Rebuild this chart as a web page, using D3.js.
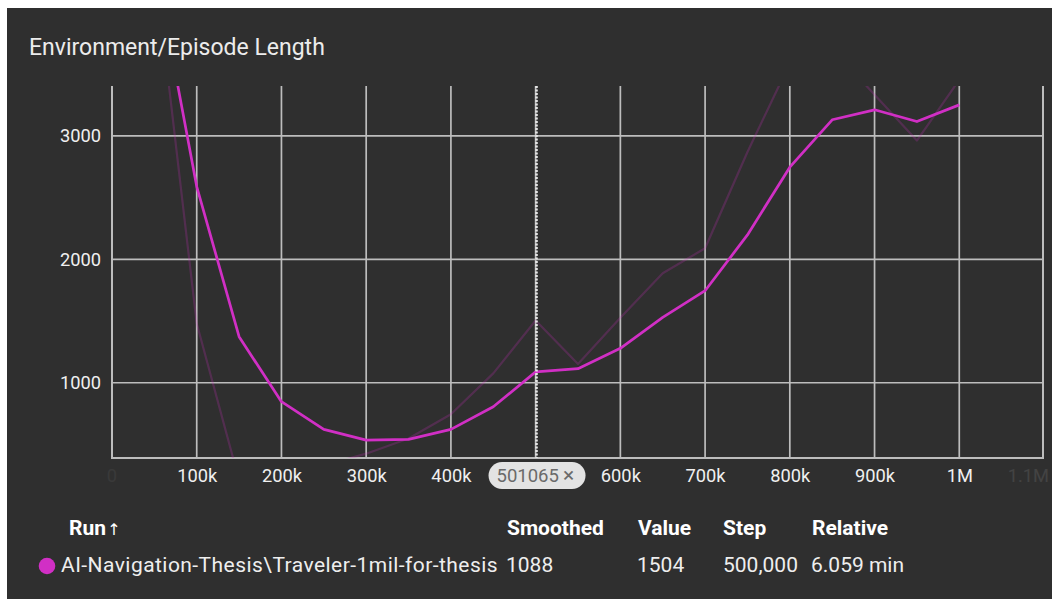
<!DOCTYPE html>
<html>
<head>
<meta charset="utf-8">
<script src="https://cdn.jsdelivr.net/npm/d3@7"></script>
<style>
  html, body { margin: 0; padding: 0; background: #ffffff; }
  svg { display: block; font-family: Roboto, "Noto Sans", sans-serif; }
</style>
</head>
<body>
<svg id="chart" width="1052" height="599"></svg>
<script>
// ---- data ----
const steps = [50000, 100000, 150000, 200000, 250000, 300000, 350000, 400000, 450000, 500000,
               550000, 600000, 650000, 700000, 750000, 800000, 850000, 900000, 950000, 1000000];
const rawValues = [4420, 1480, 210, 225, 330, 425, 548, 744, 1076, 1504,
                   1152, 1527, 1887, 2090, 2870, 3590, 3707, 3335, 2963, 3455];
const smoothedValues = [4420, 2590, 1373, 846, 622, 535, 541, 622, 805, 1088,
                        1114, 1279, 1530, 1746, 2198, 2747, 3131, 3212, 3117, 3252];
const xGrid = [100000, 200000, 300000, 400000, 500000, 600000, 700000, 800000, 900000, 1000000];
const xTickLabels = [100000, 200000, 300000, 400000, 600000, 700000, 800000, 900000, 1000000];
const yTicks = [1000, 2000, 3000];
const hoverStep = 501065;
const title = "Environment/Episode Length";
const tableHeaders = ["Run", "Smoothed", "Value", "Step", "Relative"];
const tableRow = ["AI-Navigation-Thesis\\Traveler-1mil-for-thesis", "1088", "1504", "500,000", "6.059 min"];

// ---- layout ----
const svg = d3.select("#chart");
const bg = "#2f2f2f";
const lineColor = "#d12fc5";
const gridColor = "#bdbdbd";
const plot = { left: 112, right: 1044, top: 86, bottom: 458 };

svg.append("rect").attr("x", 7).attr("y", 8).attr("width", 1052 - 7).attr("height", 599 - 8).attr("fill", bg);

svg.append("text").attr("x", 29).attr("y", 55).attr("fill", "#ececec")
  .attr("font-size", 23).text(title);

const x = d3.scaleLinear().domain([0, 1100000]).range([plot.left, plot.right]);
const y = d3.scaleLinear().domain([390, 3405]).range([plot.bottom, plot.top]);

// grid
const grid = svg.append("g");
grid.selectAll("line.v").data(xGrid).join("line")
  .attr("x1", d => x(d)).attr("x2", d => x(d))
  .attr("y1", plot.top).attr("y2", plot.bottom)
  .attr("stroke", gridColor).attr("stroke-width", 1.7);
grid.selectAll("line.h").data(yTicks).join("line")
  .attr("x1", plot.left).attr("x2", plot.right - 1)
  .attr("y1", d => y(d)).attr("y2", d => y(d))
  .attr("stroke", gridColor).attr("stroke-width", 1.7);
// frame: left, bottom, right
grid.append("path")
  .attr("d", `M${plot.left},${plot.top}V${plot.bottom}H${plot.right - 1}V${plot.top}`)
  .attr("fill", "none").attr("stroke", gridColor).attr("stroke-width", 2);

// axes labels
const fmt = d => d >= 1e6 ? (d / 1e6) + "M" : (d / 1e3) + "k";
const xAxis = svg.append("g").attr("transform", `translate(0,${plot.bottom})`)
  .call(d3.axisBottom(x).tickValues(xTickLabels).tickFormat(fmt).tickSize(0).tickPadding(11));
xAxis.select(".domain").remove();
xAxis.selectAll("text").attr("fill", "#f0f0f0").attr("font-size", 18.3).attr("font-family", "Roboto");

// faint edge labels
svg.append("text").attr("x", x(0)).attr("y", 482).attr("text-anchor", "middle")
  .attr("font-size", 18.3).attr("fill", "#f0f0f0").attr("opacity", 0.05).text("0");
svg.append("text").attr("x", 1049).attr("y", 482).attr("text-anchor", "end")
  .attr("font-size", 18.3).attr("fill", "#f0f0f0").attr("opacity", 0.1).text("1.1M");

const yAxis = svg.append("g").attr("transform", `translate(${plot.left},0)`)
  .call(d3.axisLeft(y).tickValues(yTicks).tickFormat(d3.format("d")).tickSize(0).tickPadding(11));
yAxis.select(".domain").remove();
yAxis.selectAll("text").attr("fill", "#f0f0f0").attr("font-size", 18.3).attr("font-family", "Roboto");

// clip
svg.append("clipPath").attr("id", "clip").append("rect")
  .attr("x", plot.left).attr("y", plot.top).attr("width", plot.right - plot.left).attr("height", plot.bottom - plot.top);

const line = d3.line().x(d => x(d[0])).y(d => y(d[1]));
const rawData = steps.map((s, i) => [s, rawValues[i]]);
const smData = steps.map((s, i) => [s, smoothedValues[i]]);

const lines = svg.append("g").attr("clip-path", "url(#clip)");
lines.append("path").attr("d", line(rawData)).attr("fill", "none")
  .attr("stroke", lineColor).attr("stroke-opacity", 0.22).attr("stroke-width", 2.2)
  .attr("stroke-linejoin", "round");
lines.append("path").attr("d", line(smData)).attr("fill", "none")
  .attr("stroke", lineColor).attr("stroke-width", 2.7)
  .attr("stroke-linejoin", "round");

// hover line
svg.append("line").attr("x1", x(hoverStep)).attr("x2", x(hoverStep))
  .attr("y1", plot.top).attr("y2", plot.bottom)
  .attr("stroke", "#e6e6e6").attr("stroke-width", 2.5).attr("stroke-dasharray", "2,1.5");

// hover badge
const bx = x(hoverStep);
svg.append("rect").attr("x", bx - 48).attr("y", 462).attr("width", 97).attr("height", 27)
  .attr("rx", 13.5).attr("fill", "#e3e3e3");
const badge = svg.append("text").attr("x", bx - 40).attr("y", 482).attr("font-size", 18.5)
  .attr("fill", "#6a6a6a");
badge.append("tspan").text(String(hoverStep));
badge.append("tspan").attr("dx", 4).attr("font-size", 21).text("\u00d7");

// table
const hx = [69, 507, 638, 723, 812];
const header = svg.append("g").attr("font-weight", "bold").attr("font-size", 21).attr("fill", "#ffffff");
tableHeaders.forEach((h, i) => {
  header.append("text").attr("x", hx[i]).attr("y", 535).text(h);
});
header.append("text").attr("x", 114).attr("y", 535).attr("font-weight", "normal")
  .attr("font-family", "'DejaVu Sans', sans-serif")
  .attr("font-size", 16).attr("text-anchor", "middle").text("\u2191");

svg.append("circle").attr("cx", 47).attr("cy", 566).attr("r", 8.3).attr("fill", lineColor);
const rx = [61, 506, 637, 723, 811];
tableRow.forEach((t, i) => {
  svg.append("text").attr("x", rx[i]).attr("y", 572).attr("font-size", 21)
    .attr("letter-spacing", i === 0 ? 0.45 : 0)
    .attr("fill", "#eeeeee").text(t);
});
</script>
</body>
</html>
